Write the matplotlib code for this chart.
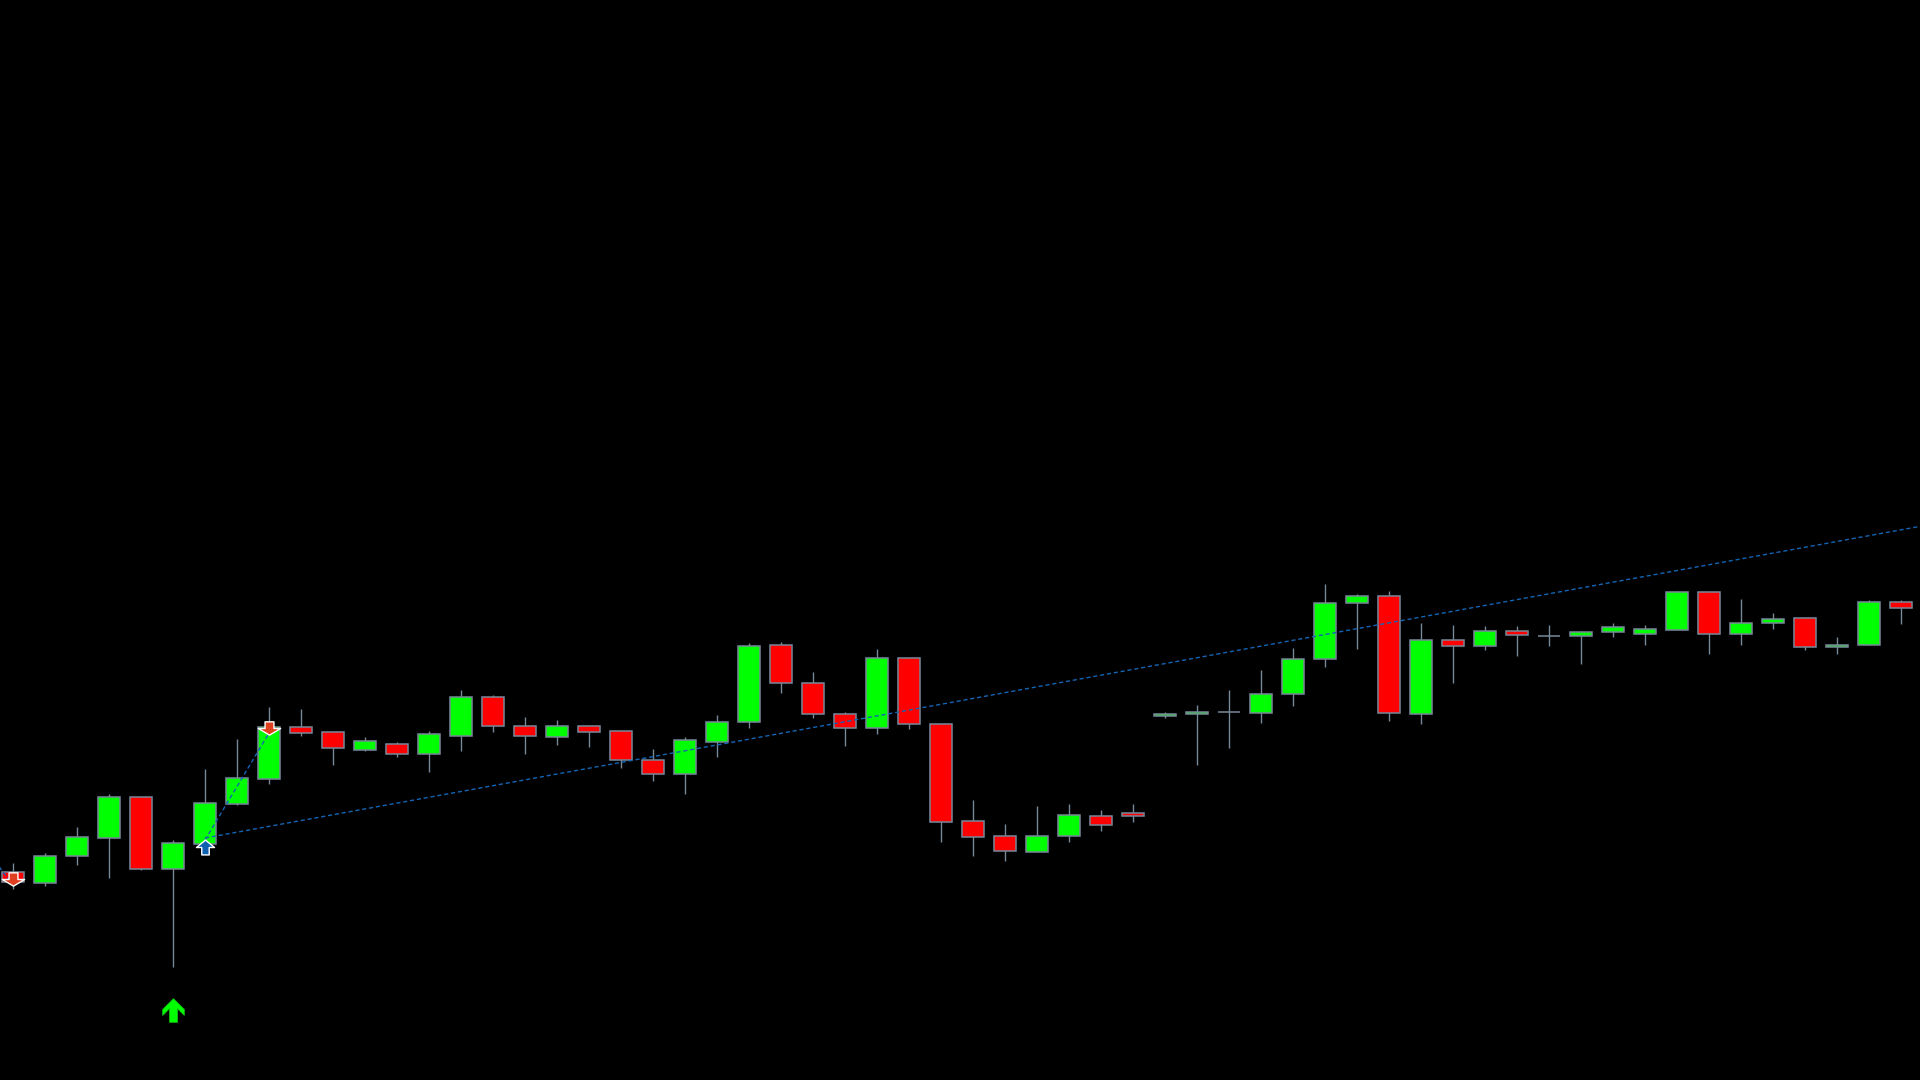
import matplotlib

matplotlib.use("Agg")
import matplotlib.pyplot as plt
import numpy as np
from matplotlib.path import Path

# OHLC (arbitrary price units, no axis shown)
opens = [208, 197, 224, 242, 283, 211, 236, 276, 301, 353,
         348, 330, 336, 326, 344, 383, 354, 343, 354, 349,
         320, 306, 338, 358, 435, 397, 366, 352, 422, 356,
         259, 244, 228, 244, 264, 267, 364, 366, 368, 367,
         386, 421, 477, 484, 366, 440, 434, 449, 444, 444,
         448, 446, 450, 488, 446, 457, 462, 433, 435, 478]
closes = [198, 224, 243, 283, 211, 237, 277, 302, 353, 347,
          332, 339, 326, 346, 383, 354, 344, 354, 348, 320,
          306, 340, 358, 434, 397, 366, 352, 422, 356, 258,
          243, 229, 244, 265, 255, 264, 366, 368, 368, 386,
          421, 477, 484, 367, 440, 434, 449, 445, 444, 448,
          453, 451, 488, 446, 457, 461, 433, 435, 478, 472]
highs = [217, 227, 253, 286, 283, 240, 311, 341, 373, 371,
         349, 343, 338, 349, 390, 385, 363, 360, 355, 350,
         331, 343, 365, 437, 438, 408, 368, 431, 422, 356,
         280, 256, 274, 276, 270, 276, 368, 375, 390, 410,
         432, 496, 486, 489, 457, 455, 454, 454, 455, 449,
         457, 455, 489, 488, 481, 467, 463, 443, 480, 480]
lows = [191, 194, 215, 202, 210, 113, 236, 275, 296, 344,
        315, 329, 323, 308, 329, 348, 326, 335, 333, 312,
        299, 286, 323, 352, 387, 362, 334, 346, 351, 238,
        224, 219, 228, 238, 249, 258, 362, 315, 332, 357,
        374, 413, 431, 359, 356, 397, 430, 424, 434, 416,
        443, 435, 450, 426, 435, 451, 430, 426, 435, 456]

# signal markers: (bar index, price)
sell_idx = [0, 8]
sell_px = [201, 352]
buy_idx = [6]
buy_px = [233]
swing_idx = [5]
swing_px = [70]

# dotted lines
trend_x = [6, 60]
trend_y = [242, 556]
zigzag_x = [6, 8]
zigzag_y = [240, 347]
lead_x = [-1, 0]
lead_y = [237, 195]

BULL = "#00ff00"
BEAR = "#ff0000"
EDGE = "#778899"
LINE = "#1464b4"


def arrow_path(verts):
    verts = list(verts) + [verts[0]]
    return Path(np.array(verts, dtype=float), closed=True)


DOWN_ARROW = arrow_path([(-4, 6), (4, 6), (4, 0), (10, 0), (0, -6), (-10, 0), (-4, 0)])
UP_ARROW = arrow_path([(-3.5, -7), (3.5, -7), (3.5, 0), (8.5, 0), (0, 7), (-8.5, 0), (-3.5, 0)])
THIN_UP = arrow_path([(0, 12), (11, 1), (11, -5), (4, 2), (4, -12),
                      (-4, -12), (-4, 2), (-11, -5), (-11, 1)])


def draw_candles(ax):
    x = np.arange(len(opens))
    o = np.array(opens)
    c = np.array(closes)
    colors = [BULL if cc >= oo else BEAR for oo, cc in zip(o, c)]
    ax.vlines(x, lows, highs, color=EDGE, linewidth=1.0, zorder=2)
    ax.bar(x, np.abs(c - o), bottom=np.minimum(o, c), width=0.69,
           color=colors, edgecolor=EDGE, linewidth=1.1, zorder=3)


def main():
    fig = plt.figure(figsize=(19.2, 10.8), dpi=100, facecolor="black")
    ax = fig.add_axes([0, 0, 1, 1])
    ax.set_facecolor("black")
    ax.set_axis_off()

    draw_candles(ax)

    for xs, ys in [(trend_x, trend_y), (zigzag_x, zigzag_y), (lead_x, lead_y)]:
        ax.plot(xs, ys, color=LINE, linewidth=1.0, dashes=(3, 2), zorder=4)

    ax.plot(sell_idx, sell_px, linestyle="none", marker=DOWN_ARROW, markersize=16,
            markerfacecolor="#e04020", markeredgecolor="white", markeredgewidth=1.0, zorder=5)
    ax.plot(buy_idx, buy_px, linestyle="none", marker=UP_ARROW, markersize=13,
            markerfacecolor="#1060b0", markeredgecolor="white", markeredgewidth=1.0, zorder=5)
    ax.plot(swing_idx, swing_px, linestyle="none", marker=THIN_UP, markersize=17,
            markerfacecolor="#00ff00", markeredgecolor="#10c010", markeredgewidth=0.6, zorder=5)

    ax.set_xlim(-0.406, 59.59)
    ax.set_ylim(0, 1080)

    fig.savefig("out.png", dpi=100, facecolor="black")
    plt.close(fig)


if __name__ == "__main__":
    main()
